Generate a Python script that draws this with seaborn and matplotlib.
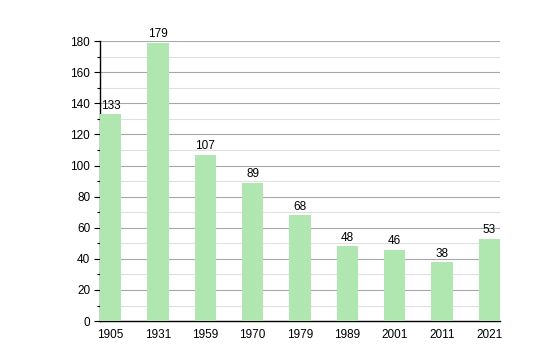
import matplotlib
matplotlib.use("Agg")
import matplotlib.pyplot as plt
import seaborn as sns
import pandas as pd
from matplotlib.ticker import MultipleLocator

years = ["1905", "1931", "1959", "1970", "1979", "1989", "2001", "2011", "2021"]
population = [133, 179, 107, 89, 68, 48, 46, 38, 53]

df = pd.DataFrame({"year": years, "pop": population})

sns.set_style("white")
plt.rcParams['font.family'] = ['Liberation Sans', 'DejaVu Sans']

fig = plt.figure(figsize=(5.4, 3.6), dpi=100)
ax = fig.add_axes([0.185, 0.108, 0.741, 0.778])

sns.barplot(data=df, x="year", y="pop", color="#b0e6b0", saturation=1,
            width=0.45, ax=ax, zorder=3, linewidth=0, edgecolor="none")

ax.set_xlim(-0.225, 8.225)
ax.set_ylim(0, 180)
ax.yaxis.set_major_locator(MultipleLocator(20))
ax.yaxis.set_minor_locator(MultipleLocator(10))
ax.grid(which="major", axis="y", color="#a8a8a8", linewidth=0.8, zorder=1)
ax.grid(which="minor", axis="y", color="#e0e0e0", linewidth=0.8, zorder=1)
ax.set_axisbelow(True)

for i, v in enumerate(population):
    ax.text(i, v + 1.5, str(v), ha="center", va="bottom", fontsize=8.5, color="#000000")

for s in ["top", "right"]:
    ax.spines[s].set_visible(False)
for s in ["left", "bottom"]:
    ax.spines[s].set_color("black")
    ax.spines[s].set_linewidth(1.0)

ax.tick_params(axis="y", which="major", left=True, length=4, width=0.8, labelsize=8.5, direction="out", color="black", labelcolor="black", pad=3)
ax.tick_params(axis="y", which="minor", left=True, length=2, width=0.8, direction="out", color="black")
ax.tick_params(axis="x", bottom=False, labelsize=8.5, labelcolor="black", pad=2)
ax.set_xlabel("")
ax.set_ylabel("")

fig.savefig("out.png", dpi=100)
